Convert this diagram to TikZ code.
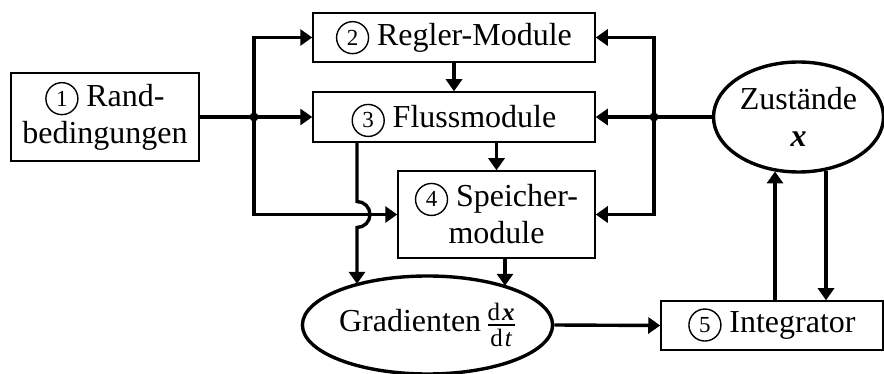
\documentclass[tikz,border=0pt]{standalone}
\usepackage{fontspec}
\usepackage{amsmath}
\usepackage{pict2e}
\setmainfont{Liberation Serif}
\usetikzlibrary{arrows.meta,shapes.geometric}
\newcommand{\cnum}[1]{{\setlength{\unitlength}{1pt}\begin{picture}(33,0)\linethickness{1.4pt}\put(16.5,7.5){\circle{32}}\put(16.5,0){\makebox(0,0)[b]{\fontsize{23}{23}\selectfont #1}}\end{picture}}}
\newcommand{\fracfont}{\fontsize{25}{25}\selectfont}
\begin{document}
\begin{tikzpicture}[x=1pt,y=-1pt,
  box/.style={draw,line width=1.5pt,rectangle,inner sep=0pt,align=center,font=\fontsize{32}{37}\selectfont},
  ell/.style={draw,line width=3.4pt,ellipse,inner sep=0pt,align=center,font=\fontsize{32}{37}\selectfont},
  conn/.style={line width=3.4pt,-{Triangle[length=12pt,width=16pt]}},
  plain/.style={line width=3.4pt},
  jdot/.style={circle,fill,inner sep=0pt,minimum size=9pt}]
\useasboundingbox (0,0) rectangle (884,374);

\node[box,minimum width=188pt,minimum height=88pt] (b1) at (105,117) {\cnum{1} Rand-\\bedingungen};
\node[box,minimum width=282pt,minimum height=49pt] (b2) at (454,37.5) {\cnum{2} Regler-Module};
\node[box,minimum width=282pt,minimum height=50pt] (b3) at (454,117) {\cnum{3} Flussmodule};
\node[box,minimum width=197pt,minimum height=87pt] (b4) at (496.5,214.5) {\cnum{4} Speicher-\\module};
\node[box,minimum width=222pt,minimum height=49pt] (b5) at (772,325.5) {\cnum{5} Integrator};
\node[ell,minimum width=239pt,minimum height=98pt] (grad) at (427.5,325) {Gradienten\,$\genfrac{}{}{2.8pt}{}{\text{\fracfont d\kern2pt\textbf{\textit{x}}}}{\text{\fracfont d\kern2pt\textit{t}}}$};
\node[ell,minimum width=170pt,minimum height=110pt] (zust) at (798.5,117) {Zustände\\\textbf{\textit{x}}};

\coordinate (jl) at (254,117);
\coordinate (jr) at (654,117);
\coordinate (v1) at (357,142);
\coordinate (v2) at (505,258);
\coordinate (v3) at (775,0);
\coordinate (v4) at (826,0);

% left side
\draw[plain] (b1.east) -- (jl);
\draw[conn] (jl) |- (b2.west);
\draw[conn] (jl) -- (b3.west);
\draw[conn] (jl) |- (b4.west);
\node[jdot] at (jl) {};

% right side
\draw[plain] (zust.west) -- (jr);
\draw[conn] (jr) |- (b2.east);
\draw[conn] (jr) -- (b3.east);
\draw[conn] (jr) |- (b4.east);
\node[jdot] at (jr) {};

% vertical flow
\draw[conn] (b2.south) -- (b3.north);
\draw[conn] (b3.south -| b4.north) -- (b4.north);
\draw[conn] (b3.south -| v1) -- (357,201.5) arc[start angle=90,end angle=-90,radius=13pt] -- (grad.151 -| v1);
\draw[conn] (b4.south -| v2) -- (grad.26 -| v2);
\draw[conn] (grad.east) -- (b5.west);
\draw[conn] (b5.north -| v3) -- (zust.246 -| v3);
\draw[conn] (zust.298 -| v4) -- (b5.north -| v4);
\end{tikzpicture}
\end{document}
